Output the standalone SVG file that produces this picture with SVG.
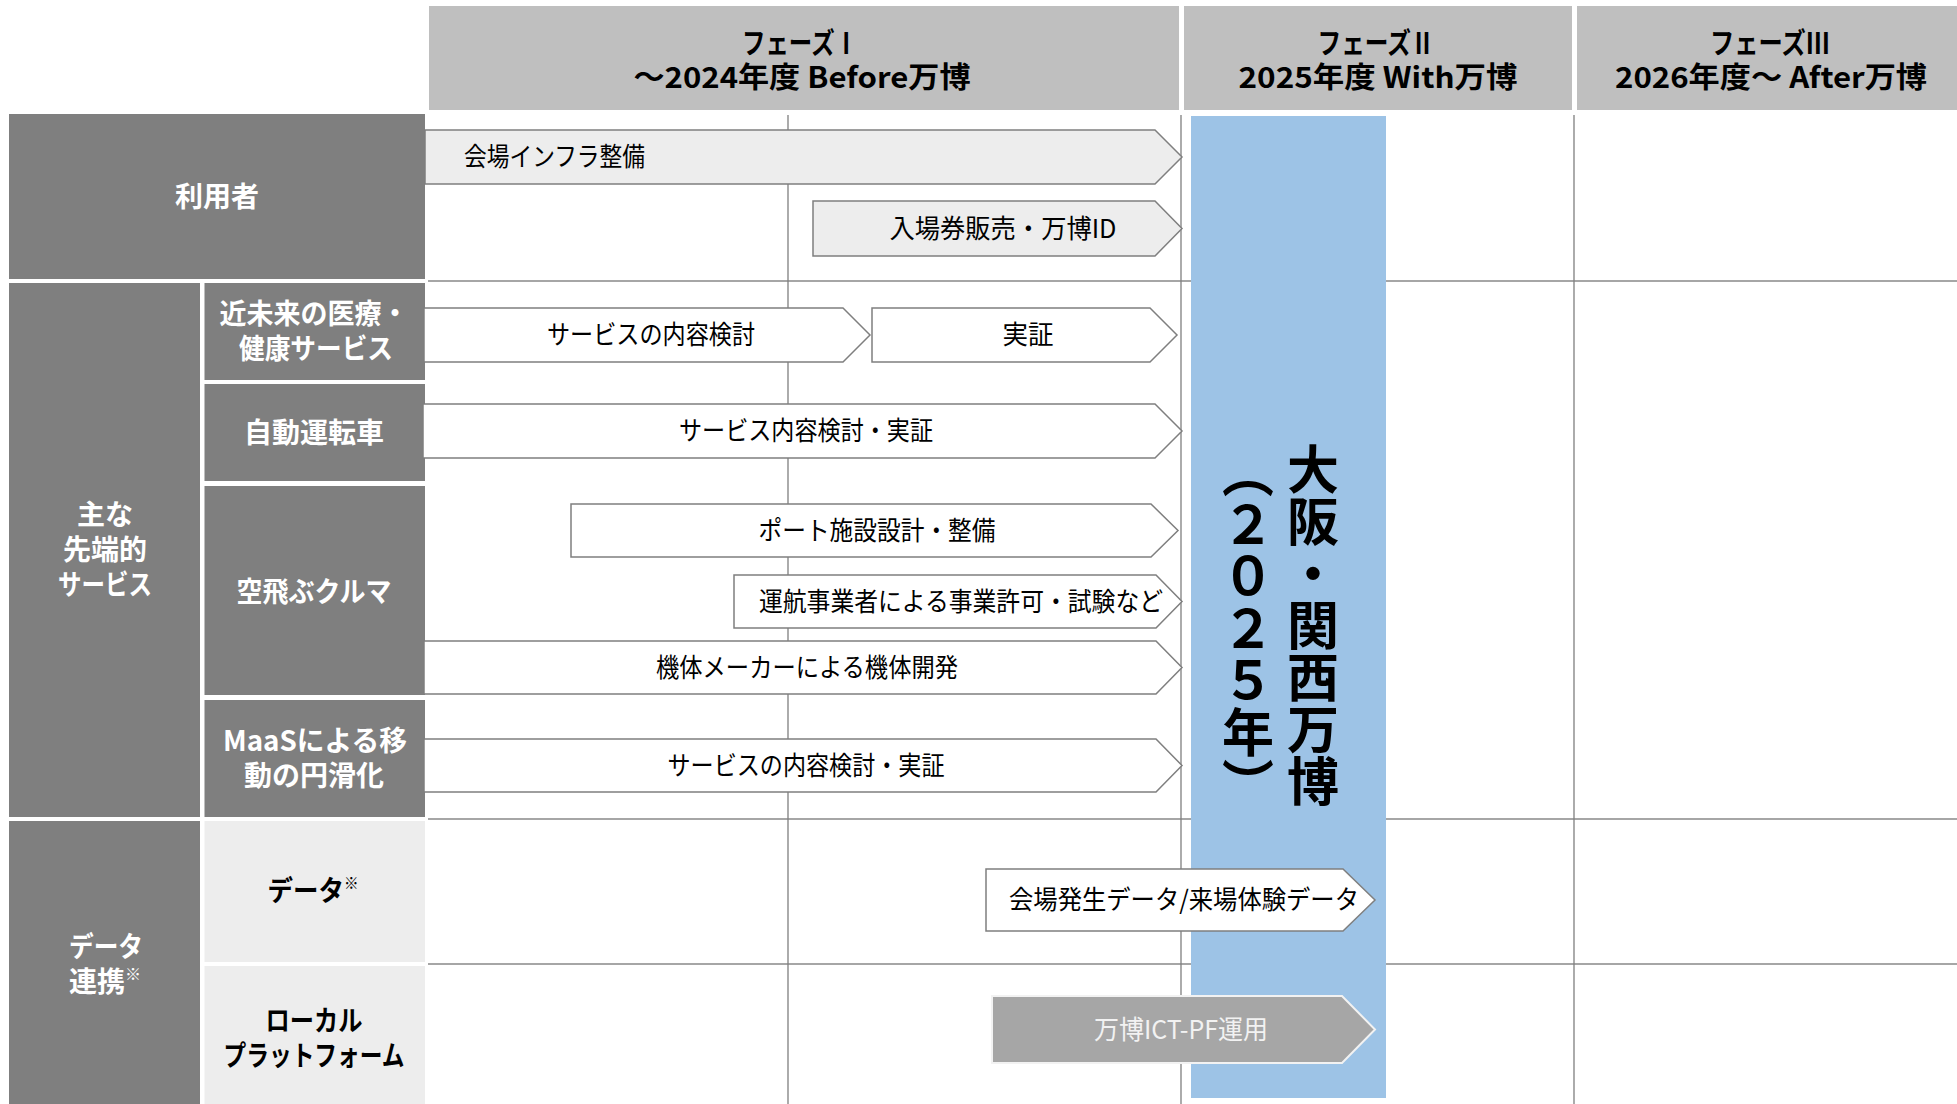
<svg xmlns="http://www.w3.org/2000/svg" width="1957" height="1104" viewBox="0 0 1957 1104">
<style>
text{font-family:"Noto Sans CJK JP","Noto Sans",sans-serif}
.hdr{fill:#bfbfbf}
.hdrt{font-size:29px;font-weight:700;fill:#000;text-anchor:middle}
.dark{fill:#7f7f7f}
.light{fill:#ededed}
.lbl{font-size:28px;font-weight:700;fill:#fff;text-anchor:middle}
.lblk{font-size:28px;font-weight:700;fill:#000;text-anchor:middle}
.sup{font-size:16px}
.vl{stroke:#7f7f7f;stroke-width:1.3;fill:none}
.hl{stroke:#a6a6a6;stroke-width:2;fill:none}
.bar{fill:#fff;stroke:#7f7f7f;stroke-width:1.5}
.barl{fill:#ededed;stroke:#7f7f7f;stroke-width:1.5}
.barg{fill:#a6a6a6;stroke:#f2f2f2;stroke-width:2}
.bt{font-size:26px;fill:#000;text-anchor:middle}
.btw{font-size:26px;fill:#f2f2f2;text-anchor:middle}
.expo{font-size:52px;font-weight:700;fill:#000;text-anchor:middle;writing-mode:vertical-rl}
</style>

<!-- header -->
<g id="phase1">
<rect class="hdr" x="429" y="6" width="750" height="104"/>
<text class="hdrt"><tspan x="800" y="54" textLength="116" lengthAdjust="spacingAndGlyphs">フェーズⅠ</tspan><tspan x="802" y="88" textLength="337" lengthAdjust="spacingAndGlyphs">～2024年度 Before万博</tspan></text>
</g>
<g id="phase2">
<rect class="hdr" x="1184" y="6" width="388" height="104"/>
<text class="hdrt"><tspan x="1376" y="54" textLength="117" lengthAdjust="spacingAndGlyphs">フェーズⅡ</tspan><tspan x="1378" y="88" textLength="279" lengthAdjust="spacingAndGlyphs">2025年度 With万博</tspan></text>
</g>
<g id="phase3">
<rect class="hdr" x="1577" y="6" width="380" height="104"/>
<text class="hdrt"><tspan x="1770" y="54" textLength="120" lengthAdjust="spacingAndGlyphs">フェーズⅢ</tspan><tspan x="1771" y="88" textLength="312" lengthAdjust="spacingAndGlyphs">2026年度～ After万博</tspan></text>
</g>

<!-- grid -->
<g id="grid">
<line class="hl" x1="428" y1="281" x2="1957" y2="281"/>
<line class="hl" x1="428" y1="819" x2="1957" y2="819"/>
<line class="hl" x1="428" y1="964" x2="1957" y2="964"/>
<line class="vl" x1="788" y1="115" x2="788" y2="1104"/>
<line class="vl" x1="1181" y1="115" x2="1181" y2="1104"/>
<line class="vl" x1="1574" y1="115" x2="1574" y2="1104"/>
</g>

<!-- expo column -->
<g id="expo">
<rect x="1191" y="116" width="195" height="982" fill="#9dc3e6"/>
<text class="expo" x="1313" y="625">大阪・関西万博</text>
<text class="expo" x="1248" y="628">（２０２５年）</text>
</g>

<!-- left labels -->
<g id="users">
<rect class="dark" x="9" y="114" width="416" height="165"/>
<text class="lbl" x="217" y="207">利用者</text>
</g>
<g id="services">
<rect class="dark" x="9" y="283" width="191" height="534"/>
<text class="lbl"><tspan x="105" y="525">主な</tspan><tspan x="105" y="560">先端的</tspan><tspan x="105" y="595" textLength="94" lengthAdjust="spacingAndGlyphs">サービス</tspan></text>
</g>
<g id="medical">
<rect class="dark" x="204.5" y="283" width="220.5" height="97"/>
<text class="lbl"><tspan x="314" y="324" textLength="189" lengthAdjust="spacingAndGlyphs">近未来の医療・</tspan><tspan x="316" y="359" textLength="154" lengthAdjust="spacingAndGlyphs">健康サービス</tspan></text>
</g>
<g id="autodrive">
<rect class="dark" x="204.5" y="384" width="220.5" height="97"/>
<text class="lbl" x="314" y="443">自動運転車</text>
</g>
<g id="flyingcar">
<rect class="dark" x="204.5" y="486" width="220.5" height="209"/>
<text class="lbl" x="314" y="602" textLength="155" lengthAdjust="spacingAndGlyphs">空飛ぶクルマ</text>
</g>
<g id="maas">
<rect class="dark" x="204.5" y="700" width="220.5" height="117"/>
<text class="lbl"><tspan x="315" y="751" textLength="184" lengthAdjust="spacingAndGlyphs">MaaSによる移</tspan><tspan x="314" y="786">動の円滑化</tspan></text>
</g>
<g id="datalink">
<rect class="dark" x="9" y="821" width="191" height="283"/>
<text class="lbl"><tspan x="106" y="957" textLength="74" lengthAdjust="spacingAndGlyphs">データ</tspan><tspan x="105" y="992">連携<tspan class="sup" dy="-12">※</tspan></tspan></text>
</g>
<g id="data">
<rect class="light" x="204.5" y="821" width="220.5" height="141"/>
<text class="lblk" x="313" y="901" textLength="91" lengthAdjust="spacingAndGlyphs">データ<tspan class="sup" dy="-12">※</tspan></text>
</g>
<g id="localpf">
<rect class="light" x="204.5" y="966" width="220.5" height="138"/>
<text class="lblk"><tspan x="314" y="1031" textLength="97" lengthAdjust="spacingAndGlyphs">ローカル</tspan><tspan x="314" y="1066" textLength="181" lengthAdjust="spacingAndGlyphs">プラットフォーム</tspan></text>
</g>

<!-- bars -->
<g id="bar-infra">
<path class="barl" d="M425,130 H1155 L1182,157 L1155,184 H425 Z"/>
<text class="bt" x="464" y="166" style="text-anchor:start" textLength="181" lengthAdjust="spacingAndGlyphs">会場インフラ整備</text>
</g>
<g id="bar-ticket">
<path class="barl" d="M813,201 H1155 L1182,228.5 L1155,256 H813 Z"/>
<text class="bt" x="1003" y="238" textLength="227" lengthAdjust="spacingAndGlyphs">入場券販売・万博ID</text>
</g>
<g id="bar-med1">
<path class="bar" d="M424,308 H843 L870,335 L843,362 H424 Z"/>
<text class="bt" x="651" y="344" textLength="208" lengthAdjust="spacingAndGlyphs">サービスの内容検討</text>
</g>
<g id="bar-med2">
<path class="bar" d="M872,308 H1150 L1177,335 L1150,362 H872 Z"/>
<text class="bt" x="1028" y="344" textLength="51" lengthAdjust="spacingAndGlyphs">実証</text>
</g>
<g id="bar-auto">
<path class="bar" d="M423,404 H1155 L1182,431 L1155,458 H423 Z"/>
<text class="bt" x="806" y="440" textLength="254" lengthAdjust="spacingAndGlyphs">サービス内容検討・実証</text>
</g>
<g id="bar-port">
<path class="bar" d="M571,504 H1151 L1178,530.5 L1151,557 H571 Z"/>
<text class="bt" x="877" y="540" textLength="237" lengthAdjust="spacingAndGlyphs">ポート施設設計・整備</text>
</g>
<g id="bar-operator">
<path class="bar" d="M734,575 H1156 L1182,601.5 L1156,628 H734 Z"/>
<text class="bt" x="961" y="611" textLength="404" lengthAdjust="spacingAndGlyphs">運航事業者による事業許可・試験など</text>
</g>
<g id="bar-maker">
<path class="bar" d="M424,641 H1156 L1182,667.5 L1156,694 H424 Z"/>
<text class="bt" x="807" y="677" textLength="302" lengthAdjust="spacingAndGlyphs">機体メーカーによる機体開発</text>
</g>
<g id="bar-maas">
<path class="bar" d="M424,739 H1156 L1182,765.5 L1156,792 H424 Z"/>
<text class="bt" x="806" y="775" textLength="277" lengthAdjust="spacingAndGlyphs">サービスの内容検討・実証</text>
</g>
<g id="bar-data">
<path class="bar" d="M986,869 H1343 L1375,900 L1343,931 H986 Z"/>
<text class="bt" x="1184" y="909" textLength="350" lengthAdjust="spacingAndGlyphs">会場発生データ/来場体験データ</text>
</g>
<g id="bar-ictpf">
<path class="barg" d="M992,996 H1342 L1375,1029.5 L1342,1063 H992 Z"/>
<text class="btw" x="1181" y="1039" textLength="174" lengthAdjust="spacingAndGlyphs">万博ICT-PF運用</text>
</g>

<g id="connectors"></g>
</svg>
